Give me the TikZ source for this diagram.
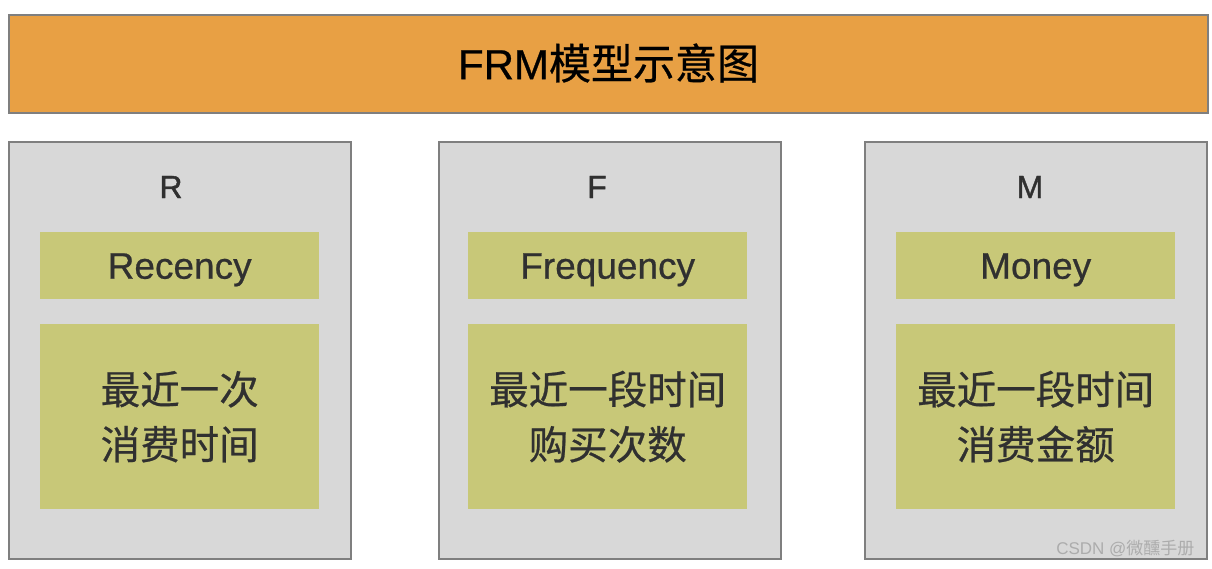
\documentclass[tikz,border=0pt]{standalone}
\usepackage{fontspec}
\setmainfont{Liberation Sans}
\newfontfamily\cjk{Noto Sans CJK SC}
\newfontfamily\cjkb{Noto Sans CJK SC}[FakeBold=0.6]
\newfontfamily\latb{Liberation Sans}[FakeBold=0.6]
\newfontfamily\lathb{Liberation Sans}[FakeBold=1.2]
\definecolor{orangebar}{HTML}{E8A044}
\definecolor{graybox}{HTML}{D8D8D8}
\definecolor{greenbox}{HTML}{C8C878}
\definecolor{edgegray}{HTML}{7F7F7F}
\definecolor{txt}{HTML}{303030}
\tikzset{
  title/.style={draw=edgegray, line width=2pt, fill=orangebar, inner sep=0pt, anchor=north west},
  colbox/.style={draw=edgegray, line width=2pt, fill=graybox, inner sep=0pt, anchor=north west, minimum width=342pt, minimum height=417pt},
  labelbox/.style={fill=greenbox, inner sep=0pt, anchor=north west, minimum width=279pt, minimum height=67pt},
  labeltext/.style={text=txt, inner sep=0pt, font=\latb\fontsize{37}{40}\selectfont},
  descbox/.style={fill=greenbox, inner sep=0pt, anchor=north west, minimum width=279pt, minimum height=185pt, text=txt, align=center, font=\cjkb\fontsize{39.5}{55}\selectfont},
  head/.style={text=txt, font=\lathb\fontsize{32}{34}\selectfont},
}
\begin{document}
\begin{tikzpicture}[x=1pt,y=-1pt]
\useasboundingbox (0,0) rectangle (1212,568);
\node[title, minimum width=1199pt, minimum height=98pt] (bar) at (8,14) {};
\node[text=black, font=\latb\fontsize{42}{44}\selectfont] (bartext) at ([yshift=1pt]bar.center) {FRM{\cjkb 模型示意图}};
% columns
\node[colbox] (cr) at (8,141) {};
\node[colbox] (cf) at (438,141) {};
\node[colbox] (cm) at (864,141) {};
\node[head] (hr) at (171,187) {R};
\node[head] (hf) at (597,187) {F};
\node[head] (hm) at (1030,187) {M};
\node[labelbox] (lr) at (40,232) {};
\node[labelbox] (lf) at (468,232) {};
\node[labelbox] (lm) at (896,232) {};
\node[labeltext, anchor=base] (tr) at ([yshift=-13pt]lr.center) {Recency};
\node[labeltext, anchor=base] (tf) at ([yshift=-13pt]lf.center) {Frequency};
\node[labeltext, anchor=base] (tm) at ([yshift=-13pt]lm.center) {Money};
\node[descbox] (dr) at (40,324) {最近一次\\消费时间};
\node[descbox] (df) at (468,324) {最近一段时间\\购买次数};
\node[descbox] (dm) at (896,324) {最近一段时间\\消费金额};
\node[text=white!35!gray, font=\fontsize{17}{19}\selectfont, anchor=east] (wm) at (1198,549) {CSDN @{\cjk 微醺手册}};
\end{tikzpicture}
\end{document}
